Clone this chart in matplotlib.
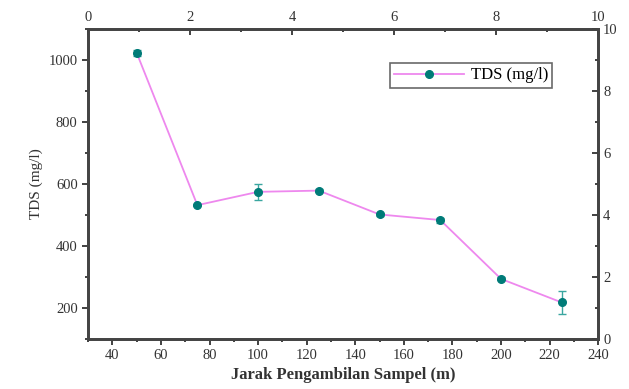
import numpy as np
import matplotlib.pyplot as plt
from matplotlib.ticker import MultipleLocator

plt.rcParams['font.family'] = ['Liberation Serif', 'DejaVu Serif']

jarak = [50, 75, 100, 125, 150, 175, 200, 225]
tds = [1024, 532, 575, 579, 502, 484, 294, 218]
tds_err = [10, 4, 26, 4, 6, 8, 5, 38]

line_col = '#ee88ee'
pt_col = '#007b78'

fig = plt.figure(figsize=(6.29, 3.89), dpi=100)
ax = fig.add_axes([0.14, 0.1285, 0.811, 0.7965])
ax.errorbar(jarak, tds, yerr=tds_err, fmt='none',
            ecolor='#3aa6a0', elinewidth=1, capsize=3, capthick=1)
ax.plot(jarak, tds, color=line_col, lw=1.3, marker='o', ms=5.5,
        mfc=pt_col, mec=pt_col, label='TDS (mg/l)')
ax.set_xlim(30, 240)
ax.set_ylim(100, 1100)
ax.xaxis.set_major_locator(MultipleLocator(20))
ax.xaxis.set_minor_locator(MultipleLocator(10))
ax.yaxis.set_major_locator(MultipleLocator(200))
ax.yaxis.set_minor_locator(MultipleLocator(100))
ax.set_xlabel('Jarak Pengambilan Sampel (m)', fontsize=12, fontweight='bold', color='#333333', labelpad=3)
ax.set_ylabel('TDS (mg/l)', fontsize=11, color='#333333')
ax.tick_params(which='both', direction='out', labelsize=10.5, width=1.3, colors='#333333')
ax.tick_params(which='major', length=4)
ax.tick_params(which='minor', length=2.5)
for s in ax.spines.values():
    s.set_linewidth(1.8)
    s.set_color('#444444')

top = ax.twiny()
top.set_xlim(0, 10)
top.xaxis.set_major_locator(MultipleLocator(2))
top.xaxis.set_minor_locator(MultipleLocator(1))
top.tick_params(which='both', direction='in', labelsize=10.5, width=1.3, colors='#333333')
top.tick_params(which='major', length=4)
top.tick_params(which='minor', length=2.5)

right = ax.twinx()
right.set_ylim(0, 10)
right.yaxis.set_major_locator(MultipleLocator(2))
right.yaxis.set_minor_locator(MultipleLocator(1))
right.tick_params(which='both', direction='in', labelsize=10.5, width=1.3, colors='#333333')
right.tick_params(which='major', length=4)
right.tick_params(which='minor', length=2.5)
for a in (top, right):
    for s in a.spines.values():
        s.set_linewidth(1.8)
        s.set_color('#444444')

leg = ax.legend(loc='upper right', bbox_to_anchor=(0.91, 0.89), borderaxespad=0,
                fontsize=12, frameon=True, fancybox=False, edgecolor='#444444',
                handlelength=4.2, borderpad=0.25, handletextpad=0.4)
leg.get_frame().set_linewidth(1.2)

fig.savefig('out.png', dpi=100)
